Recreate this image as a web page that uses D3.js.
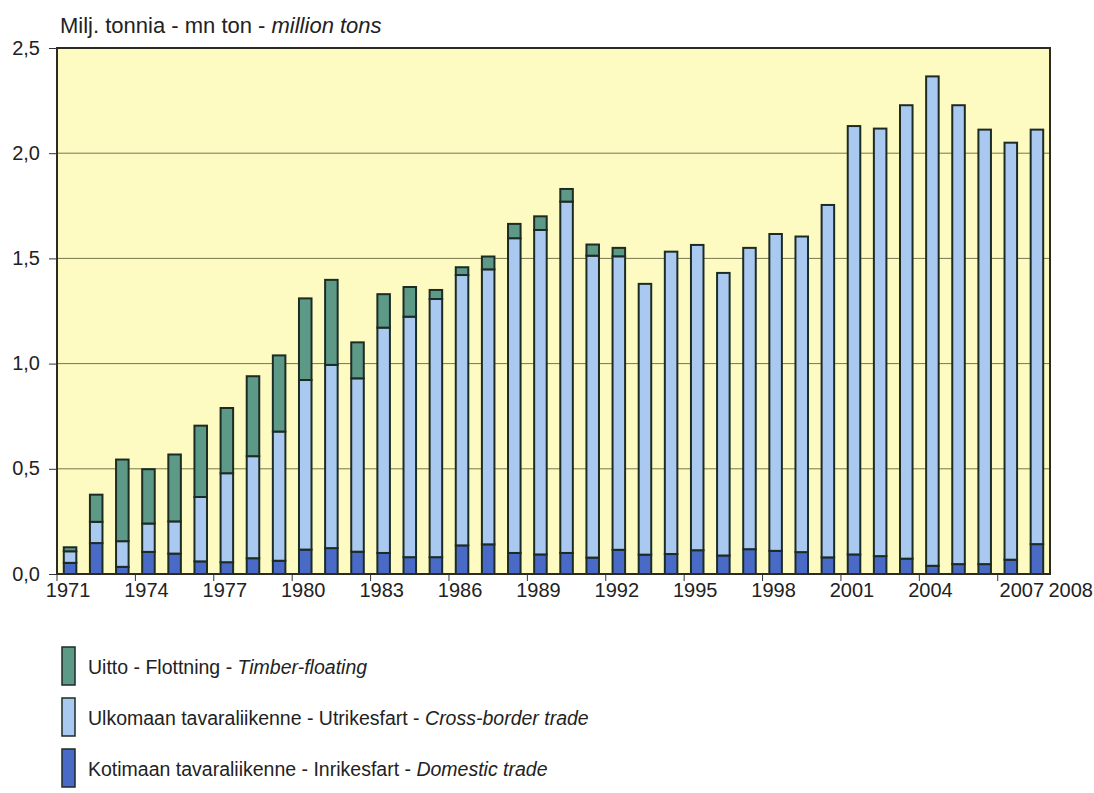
<!DOCTYPE html>
<html lang="en">
<head>
<meta charset="UTF-8">
<title>Vesiliikenne</title>
<script src="https://d3js.org/d3.v7.min.js"></script>
<style>
    body { margin: 0; background: #fff; }
    svg { display: block; font-family: "Liberation Sans", Arial, sans-serif; }
    .grid line { stroke: #77774f; stroke-width: 1; }
    .axis text { font-size: 20px; fill: #222; font-family: "Liberation Sans", Arial, sans-serif; }
    .axis path, .axis line { stroke: #333; }
</style>
</head>
<body>
<svg width="1094" height="793"></svg>
<script>
// years 1971 - 2008
var years = d3.range(1971, 2009);

// million tons
var domestic = [0.053, 0.147, 0.034, 0.105, 0.097, 0.060, 0.056, 0.075, 0.063, 0.116,
                0.123, 0.106, 0.100, 0.080, 0.080, 0.136, 0.141, 0.100, 0.093, 0.100,
                0.078, 0.115, 0.092, 0.095, 0.113, 0.088, 0.118, 0.110, 0.104, 0.079,
                0.093, 0.085, 0.073, 0.039, 0.047, 0.047, 0.068, 0.142];
var crossBorder = [0.055, 0.101, 0.122, 0.135, 0.153, 0.306, 0.423, 0.485, 0.614, 0.806,
                   0.871, 0.824, 1.071, 1.143, 1.227, 1.285, 1.307, 1.496, 1.542, 1.670,
                   1.435, 1.395, 1.287, 1.437, 1.451, 1.343, 1.432, 1.506, 1.500, 1.675,
                   2.036, 2.032, 2.155, 2.326, 2.181, 2.065, 1.982, 1.970];
var timber = [0.019, 0.129, 0.388, 0.258, 0.318, 0.339, 0.310, 0.380, 0.362, 0.388,
              0.404, 0.171, 0.159, 0.141, 0.043, 0.037, 0.061, 0.068, 0.065, 0.060,
              0.053, 0.040, 0, 0, 0, 0, 0, 0, 0, 0,
              0, 0, 0, 0, 0, 0, 0, 0];

var yTicks = [0, 0.5, 1.0, 1.5, 2.0, 2.5];
var labelYears = [1971, 1974, 1977, 1980, 1983, 1986, 1989, 1992, 1995, 1998, 2001, 2004, 2007];

var seriesKeys = ["domestic", "crossBorder", "timber"];
var colors = { domestic: "#4a6ac7", crossBorder: "#a9c9f1", timber: "#5c9a87" };

var legendItems = [
    { key: "timber", plain: "Uitto - Flottning - ", ital: "Timber-floating" },
    { key: "crossBorder", plain: "Ulkomaan tavaraliikenne - Utrikesfart - ", ital: "Cross-border trade" },
    { key: "domestic", plain: "Kotimaan tavaraliikenne - Inrikesfart - ", ital: "Domestic trade" }
];

var table = years.map(function(y, i) {
    return { year: y, domestic: domestic[i], crossBorder: crossBorder[i], timber: timber[i] };
});

// plot box (note: "top" is taken by window.top)
var plot = { left: 57, right: 1050, top: 48, bottom: 574 };

var svg = d3.select("svg");

var x = d3.scaleBand().domain(years).range([plot.left, plot.right]).paddingInner(0.52).paddingOuter(0.26);
var y = d3.scaleLinear().domain([0, 2.5]).range([plot.bottom, plot.top]);

// plot background
svg.append("rect")
    .attr("x", plot.left).attr("y", plot.top)
    .attr("width", plot.right - plot.left).attr("height", plot.bottom - plot.top)
    .attr("fill", "#fdfbc1");

// gridlines
svg.append("g").attr("class", "grid")
    .selectAll("line")
    .data(yTicks.slice(1, -1))
    .enter().append("line")
    .attr("x1", plot.left).attr("x2", plot.right)
    .attr("y1", function(d) { return y(d); })
    .attr("y2", function(d) { return y(d); });

// stacked bars
var stacked = d3.stack().keys(seriesKeys)(table);

svg.append("g").selectAll("g")
    .data(stacked)
    .enter().append("g")
    .attr("fill", function(s) { return colors[s.key]; })
    .selectAll("rect")
    .data(function(s) { return s.filter(function(d) { return d[1] - d[0] > 0; }); })
    .enter().append("rect")
    .attr("x", function(d) { return x(d.data.year); })
    .attr("y", function(d) { return y(d[1]); })
    .attr("width", x.bandwidth())
    .attr("height", function(d) { return y(d[0]) - y(d[1]); })
    .attr("stroke", "#1d2b25")
    .attr("stroke-width", 2);

// frame
svg.append("rect")
    .attr("x", plot.left).attr("y", plot.top)
    .attr("width", plot.right - plot.left).attr("height", plot.bottom - plot.top)
    .attr("fill", "none").attr("stroke", "#2b2b22").attr("stroke-width", 2);

// y axis
var yAxis = svg.append("g").attr("class", "axis")
    .attr("transform", "translate(" + plot.left + ",0)")
    .call(d3.axisLeft(y).tickValues(yTicks).tickSize(8).tickPadding(9)
        .tickFormat(function(d) { return d3.format(".1f")(d).replace(".", ","); }));
yAxis.select(".domain").remove();
yAxis.selectAll("text").attr("dy", "0.3em");

// x axis: ticks on category boundaries every three years, labels in between
var step = x.step();
var xAxis = svg.append("g").attr("class", "axis")
    .attr("transform", "translate(0," + plot.bottom + ")");
xAxis.selectAll("line")
    .data(labelYears)
    .enter().append("line")
    .attr("x1", function(d) { return x(d) - x.paddingInner() * step / 2; })
    .attr("x2", function(d) { return x(d) - x.paddingInner() * step / 2; })
    .attr("y1", 0).attr("y2", 7);
xAxis.selectAll("text")
    .data(labelYears.concat([2008]))
    .enter().append("text")
    .attr("x", function(d) {
        var c = x(d) + x.bandwidth() / 2;
        if (d === 2007) return c + 11;
        if (d === 2008) return 1093;
        return c - 2;
    })
    .attr("y", 23)
    .attr("text-anchor", function(d) { return d === 2008 ? "end" : "middle"; })
    .text(function(d) { return d; });

// unit title
var title = svg.append("text")
    .attr("x", 60).attr("y", 33)
    .attr("font-size", 22).attr("fill", "#222");
title.append("tspan").text("Milj. tonnia - mn ton - ");
title.append("tspan").attr("font-style", "italic").text("million tons");

// legend
var legend = svg.append("g").selectAll("g")
    .data(legendItems)
    .enter().append("g")
    .attr("transform", function(d, i) { return "translate(62," + (647 + i * 51) + ")"; });

legend.append("rect")
    .attr("width", 13).attr("height", 38)
    .attr("fill", function(d) { return colors[d.key]; })
    .attr("stroke", "#1d2b25").attr("stroke-width", 1.5);

var lt = legend.append("text")
    .attr("x", 26).attr("y", 27)
    .attr("font-size", 19.5).attr("fill", "#222");
lt.append("tspan").text(function(d) { return d.plain; });
lt.append("tspan").attr("font-style", "italic").text(function(d) { return d.ital; });
</script>
</body>
</html>
